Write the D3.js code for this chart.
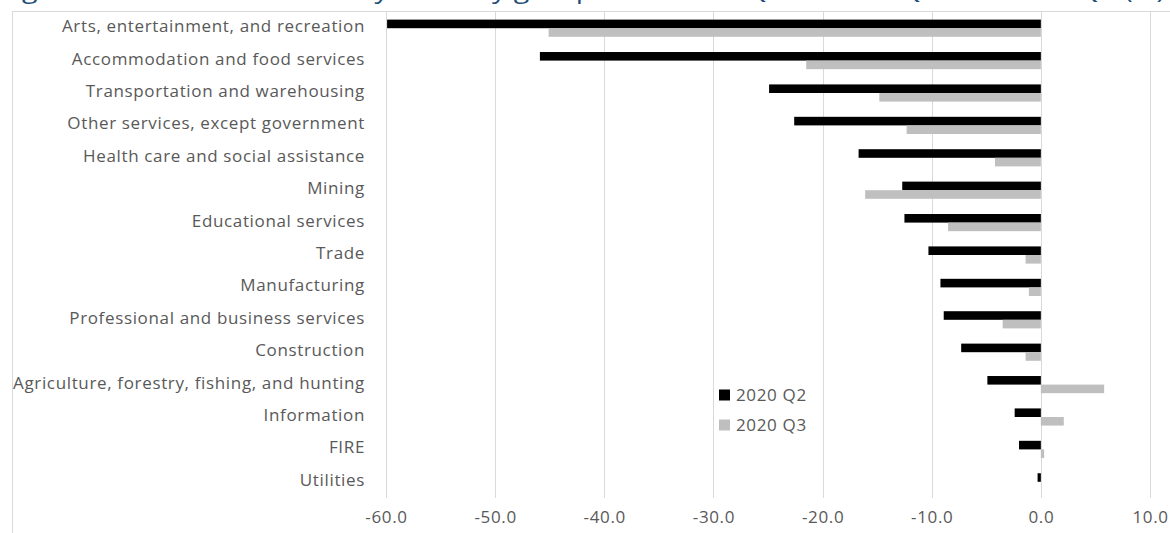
<!DOCTYPE html>
<html>
<head>
<meta charset="utf-8">
<script src="https://cdn.jsdelivr.net/npm/d3@7/dist/d3.min.js"></script>
<style>
  html, body { margin: 0; padding: 0; background: #fff; overflow: hidden; }
  svg { display: block; font-family: "Open Sans", "Noto Sans", sans-serif; }
</style>
</head>
<body>
<svg id="chart" width="1170" height="533"></svg>
<script>
const titleText = "Figure 2. Real value added by industry group from 2019 Q4 to 2020 Q2 and 2020 Q3 (%)";
const categories = [
  "Arts, entertainment, and recreation",
  "Accommodation and food services",
  "Transportation and warehousing",
  "Other services, except government",
  "Health care and social assistance",
  "Mining",
  "Educational services",
  "Trade",
  "Manufacturing",
  "Professional and business services",
  "Construction",
  "Agriculture, forestry, fishing, and hunting",
  "Information",
  "FIRE",
  "Utilities"
];
const seriesNames = ["2020 Q2", "2020 Q3"];
const q2Values = [-59.9, -45.9, -24.9, -22.6, -16.7, -12.7, -12.5, -10.3, -9.2, -8.9, -7.3, -4.9, -2.4, -2.0, -0.3];
const q3Values = [-45.1, -21.5, -14.8, -12.3, -4.2, -16.1, -8.5, -1.4, -1.1, -3.5, -1.4, 5.8, 2.1, 0.3, 0.0];
const tickValues = [-60, -50, -40, -30, -20, -10, 0, 10];

const svg = d3.select("#chart");
const colors = d3.scaleOrdinal().domain(seriesNames).range(["#000000", "#BFBFBF"]);
const labelFont = 17, labelSpacing = 0.65;

// Title (cut off at the top in the reference: only descenders visible)
svg.append("text")
  .attr("x", 0).attr("y", -2)
  .attr("textLength", 1165).attr("lengthAdjust", "spacingAndGlyphs")
  .attr("fill", "#1F4E79").attr("font-size", 24)
  .text(titleText);

// Chart border
svg.append("rect")
  .attr("x", 12.5).attr("y", 11.5).attr("width", 1300).attr("height", 700)
  .attr("fill", "#fff").attr("stroke", "#D9D9D9").attr("stroke-width", 1);

const x = d3.scaleLinear().domain([-60, 10]).range([386, 1150]);
const y = d3.scaleBand().domain(categories).range([12, 498]).paddingInner(0.47).paddingOuter(0.235);
const ySub = d3.scaleBand().domain(seriesNames).range([0, y.bandwidth()]);

// Gridlines
svg.append("g").selectAll("line").data(tickValues).join("line")
  .attr("x1", d => Math.round(x(d)) + 0.5).attr("x2", d => Math.round(x(d)) + 0.5)
  .attr("y1", 12).attr("y2", 498)
  .attr("stroke", "#D9D9D9").attr("stroke-width", 1);

// Bars
const data = categories.map((c, i) => ({cat: c, vals: [
  {s: seriesNames[0], v: q2Values[i]},
  {s: seriesNames[1], v: q3Values[i]}
]}));
const groups = svg.append("g").selectAll("g").data(data).join("g")
  .attr("transform", d => `translate(0,${y(d.cat)})`);
groups.selectAll("rect").data(d => d.vals).join("rect")
  .attr("x", d => x(Math.min(0, d.v)))
  .attr("width", d => Math.abs(x(d.v) - x(0)))
  .attr("y", d => ySub(d.s))
  .attr("height", ySub.bandwidth())
  .attr("fill", d => colors(d.s));

// Category labels
const yAxis = d3.axisLeft(y).tickSize(0).tickPadding(0);
const yg = svg.append("g").attr("transform", "translate(365,-1.5)").call(yAxis);
yg.select(".domain").remove();
yg.selectAll("text").attr("fill", "#595959").attr("font-size", labelFont)
  .attr("letter-spacing", labelSpacing)
  .attr("font-family", "'Open Sans', sans-serif");

// X tick labels
const fmt = d3.format(".1f");
const xAxis = d3.axisBottom(x).tickValues(tickValues)
  .tickFormat(d => fmt(d).replace("\u2212", "-")).tickSize(0).tickPadding(0);
const xg = svg.append("g").attr("transform", "translate(0,511)").call(xAxis);
xg.select(".domain").remove();
xg.selectAll("text").attr("fill", "#595959").attr("font-size", labelFont)
  .attr("letter-spacing", labelSpacing)
  .attr("font-family", "'Open Sans', sans-serif");

// Legend
const legend = svg.append("g");
const legendY = d3.scalePoint().domain(seriesNames).range([395, 425]);
seriesNames.forEach(s => {
  legend.append("rect").attr("x", 719).attr("y", legendY(s) - 5.5).attr("width", 11).attr("height", 11)
    .attr("fill", colors(s));
  legend.append("text").attr("x", 736).attr("y", legendY(s)).attr("dy", "0.35em")
    .attr("fill", "#595959").attr("font-size", labelFont)
    .attr("letter-spacing", labelSpacing).text(s);
});
</script>
</body>
</html>
